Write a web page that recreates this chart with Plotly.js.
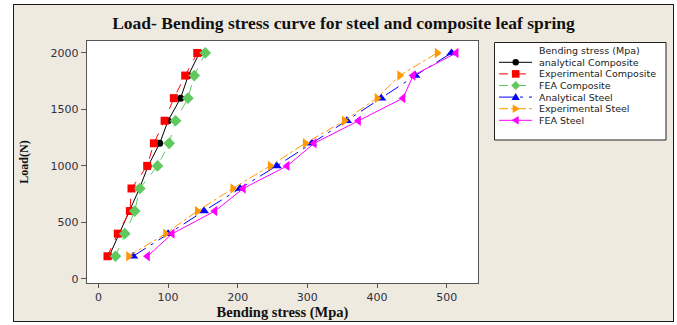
<!DOCTYPE html>
<html><head><meta charset="utf-8">
<script src="https://cdn.plot.ly/plotly-3.0.1.min.js"></script>
<style>
html,body{margin:0;padding:0;background:#fff;width:677px;height:325px;overflow:hidden}
#frame{position:absolute;left:13px;top:4px;width:659px;height:316px;border:1px solid #1a1a1a;background:#eeeae0}
#chart{width:659px;height:316px}
</style></head><body>
<div id="frame"><div id="chart"></div></div>
<script>
// ---- data ----
const loads = [200, 400, 600, 800, 1000, 1200, 1400, 1600, 1800, 2000];
const analyticalComposite = [15.3, 29.6, 45, 59, 71.4, 88, 100, 118, 129, 145];
const experimentalComposite = [13, 27.8, 45.2, 47.5, 70, 79.6, 95, 108.3, 124.6, 141.9];
const feaComposite = [24.5, 37.8, 52.2, 59.4, 84.9, 101.6, 110.8, 128.5, 137.6, 153.4];
const analyticalSteel = [49.8, 100, 151.5, 203.3, 256, 306.5, 356.8, 406, 455, 507];
const experimentalSteel = [43.2, 96.4, 141.9, 192.8, 246.5, 296.8, 353, 400, 432.5, 486.3];
const feaSteel = [70.5, 106, 167.3, 208, 271, 309.8, 373.5, 437.4, 451.8, 513.7];
const seriesNames = ['analytical Composite', 'Experimental Composite', 'FEA Composite',
                     'Analytical Steel', 'Experimental Steel', 'FEA Steel'];
const legendTitle = 'Bending stress (Mpa)';
const xTicks = [0, 100, 200, 300, 400, 500];
const yTicks = [0, 500, 1000, 1500, 2000];

// ---- styles ----
const styles = [
  {color:'#000000', dash:'solid', symbol:'circle', size:7},
  {color:'#ff0000', dash:'dash', symbol:'square', size:8},
  {color:'#5fc85f', dash:'dash', symbol:'diamond', size:9},
  {color:'#0000ff', dash:'longdashdot', symbol:'triangle-up', size:9},
  {color:'#ff9900', dash:'dashdot', symbol:'triangle-right', size:9},
  {color:'#ff00ff', dash:'solid', symbol:'triangle-left', size:9}
];
const values = [analyticalComposite, experimentalComposite, feaComposite,
                analyticalSteel, experimentalSteel, feaSteel];

const traces = values.map((v, i) => ({
  x: v, y: loads, type:'scatter', mode:'lines+markers', name: seriesNames[i],
  showlegend:false, cliponaxis:false,
  line:{color:styles[i].color, width:1, dash:styles[i].dash},
  marker:{color:styles[i].color, symbol:styles[i].symbol, size:styles[i].size}
}));

// ---- custom legend (compact, like the reference) ----
const W=659, H=316, L=73, T=36, PW=391, PH=242;
const fx = px => (px - L) / PW;
const fy = py => 1 - (py - T) / PH;
const markerPath = {
  'square':'M-3.8,-3.8L3.8,-3.8L3.8,3.8L-3.8,3.8Z',
  'diamond':'M0,4.5L4.5,0L0,-4.5L-4.5,0Z',
  'triangle-up':'M0,4.2L4.2,-3L-4.2,-3Z',
  'triangle-right':'M4.2,0L-3,4.2L-3,-4.2Z',
  'triangle-left':'M-4.2,0L3,4.2L3,-4.2Z'
};
const shapes = [{type:'rect', xref:'paper', yref:'paper', x0:fx(480.5), x1:fx(652), y0:fy(37.5), y1:fy(135),
  line:{color:'#222', width:1}, fillcolor:'#ffffff', layer:'below'}];
const annotations = [{xref:'paper', yref:'paper', x:fx(523), y:fy(45), xanchor:'left', yanchor:'middle',
  showarrow:false, text:legendTitle, font:{family:'DejaVu Sans', size:9.5, color:'#222'}}];
seriesNames.forEach((n, i) => {
  const yc = 57.3 + i * 11.6, s = styles[i];
  shapes.push({type:'line', xref:'paper', yref:'paper', x0:fx(485), x1:fx(518), y0:fy(yc), y1:fy(yc),
    line:{color:s.color, width:1, dash:s.dash}});
  const base = {xref:'paper', yref:'paper', xsizemode:'pixel', ysizemode:'pixel',
    xanchor:fx(501.7), yanchor:fy(yc), fillcolor:s.color, line:{width:0}};
  if (s.symbol === 'circle') shapes.push(Object.assign({type:'circle', x0:-3.2, x1:3.2, y0:-3.2, y1:3.2}, base));
  else shapes.push(Object.assign({type:'path', path:markerPath[s.symbol]}, base));
  annotations.push({xref:'paper', yref:'paper', x:fx(523), y:fy(yc), xanchor:'left', yanchor:'middle',
    showarrow:false, text:n, font:{family:'DejaVu Sans', size:9.5, color:'#222'}});
});

const axisCommon = {showgrid:false, zeroline:false, showline:true, mirror:true, linecolor:'#555', linewidth:1.2,
  ticks:'outside', tickcolor:'#555', tickfont:{family:'DejaVu Sans', size:11, color:'#2e2e40'}};

const layout = {
  width:W, height:H, margin:{l:L, r:W-L-PW, t:T, b:H-T-PH, pad:0},
  paper_bgcolor:'#eeeae0', plot_bgcolor:'#ffffff',
  title:{text:'Load- Bending stress curve for steel and composite leaf spring',
    font:{family:'Liberation Serif', size:17.5, color:'#111'}, x:0.5, xref:'container', y:1-18/H, yref:'container', yanchor:'middle'},
  xaxis:Object.assign({}, axisCommon, {range:[-16.4, 545], tickvals:xTicks, ticklen:4,
    title:{text:'<b>Bending stress (Mpa)</b>', font:{family:'Liberation Serif', size:14.5, color:'#111'}, standoff:0}}),
  yaxis:Object.assign({}, axisCommon, {range:[-37, 2106], tickvals:yTicks, ticklen:5,
    title:{text:'<b>Load(N)</b>', font:{family:'Liberation Serif', size:12, color:'#111'}, standoff:19}}),
  shapes:shapes, annotations:annotations, showlegend:false
};
layout.title.text = '<b>' + layout.title.text + '</b>';

Plotly.newPlot('chart', traces, layout, {displayModeBar:false, staticPlot:true});
</script>
</body></html>
